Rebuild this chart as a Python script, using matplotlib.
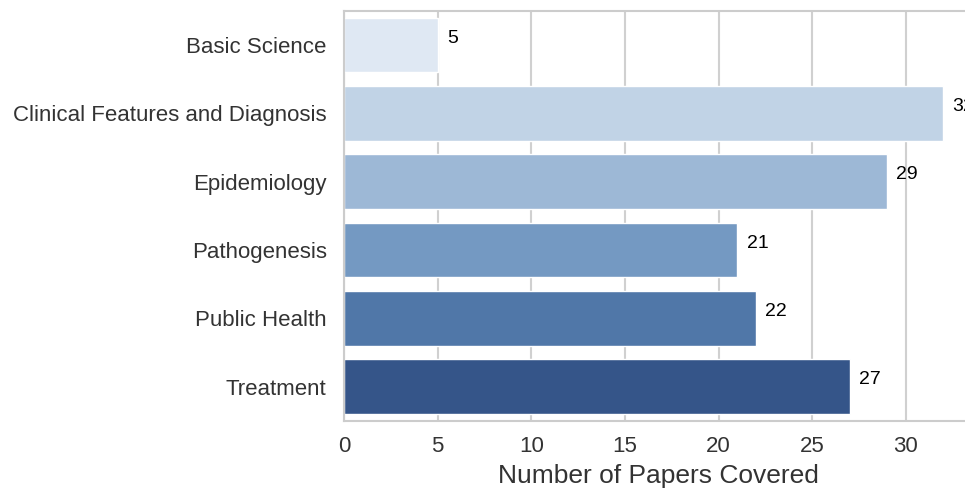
import matplotlib
matplotlib.use("Agg")
import matplotlib.pyplot as plt
import seaborn as sns

categories = ["Basic Science", "Clinical Features and Diagnosis", "Epidemiology",
              "Pathogenesis", "Public Health", "Treatment"]
papers = [5, 32, 29, 21, 22, 27]
bar_colors = ["#dfe8f3", "#c1d3e6", "#9db8d6", "#7499c2", "#5077a8", "#355589"]

sns.set_style("whitegrid")
plt.rcParams['font.family'] = ['Liberation Sans', 'DejaVu Sans']

fig = plt.figure(figsize=(9.65, 4.91), dpi=100)
# axes run past the right edge of the figure, like the cropped original
ax = fig.add_axes([0.3565, 0.1426, 0.652, 0.835])

sns.barplot(x=papers, y=categories, hue=categories, palette=bar_colors,
            legend=False, orient="h", ax=ax, saturation=1)
ax.set_xlim(0, 33.6)

for i, v in enumerate(papers):
    ax.text(v + 0.5, i - 0.1, str(v), va="center", ha="left", fontsize=14, color="black")

ax.set_xlabel("Number of Papers Covered", fontsize=19, color="#333333", labelpad=5)
ax.set_ylabel("")
ax.tick_params(axis="both", labelsize=16, colors="#333333")
ax.tick_params(axis="y", pad=9)
ax.tick_params(axis="x", pad=7)
ax.grid(axis="y", visible=False)
ax.grid(axis="x", color="#d0d0d0", linewidth=1.5)
for s in ax.spines.values():
    s.set_color("#cccccc")
    s.set_linewidth(1.5)

fig.savefig("out.png", dpi=100)
